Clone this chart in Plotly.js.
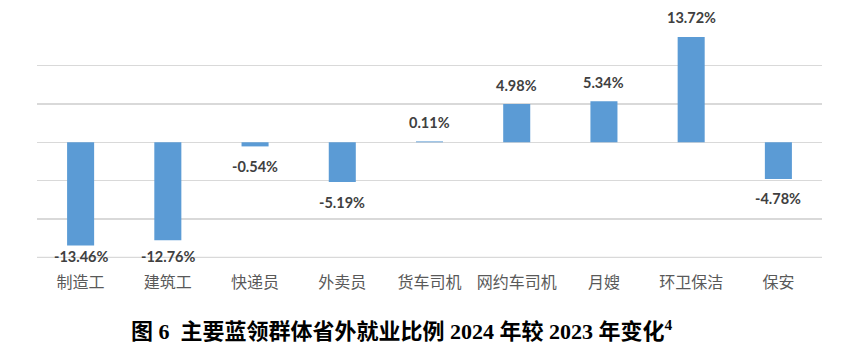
<!DOCTYPE html>
<html><head><meta charset="utf-8">
<script src="https://cdn.plot.ly/plotly-3.0.1.min.js"></script>
<style>html,body{margin:0;padding:0;background:#fff}</style>
</head><body><div id="chart" style="width:857px;height:358px"></div>
<script>
const categories = ["制造工","建筑工","快递员","外卖员","货车司机","网约车司机","月嫂","环卫保洁","保安"];
const values = [-13.46,-12.76,-0.54,-5.19,0.11,4.98,5.34,13.72,-4.78];
const labels = values.map(v => v.toFixed(2) + "%");

const yMin = -15, yMax = 15;
const pxPerUnit = 231 / (yMax - yMin);
const labelFloor = -14.87; // labels stay inside the plot area, as in the reference

const annotations = values.map((v,i) => ({
  x: categories[i], y: v, xref:'x', yref:'y',
  text: labels[i], showarrow:false,
  yanchor:'middle',
  yshift: v >= 0 ? 19 : -Math.min(20, (v - labelFloor) * pxPerUnit),
  font:{family:'Lato, "Open Sans", sans-serif', size:14.5, color:'#404040', weight:700}
}));
annotations.push({
  xref:'paper', yref:'paper', x:(402-37)/785, y:-(330-258)/231, xanchor:'center', yanchor:'middle', showarrow:false,
  text:'图 6  主要蓝领群体省外就业比例 2024 年较 2023 年变化<sup>4</sup>',
  font:{family:'"Liberation Serif", "Noto Sans CJK SC", serif', size:22, color:'#000', weight:700}
});

Plotly.newPlot('chart', [{
  type:'bar', x:categories, y:values,
  marker:{color:'#5B9BD5'},
  hoverinfo:'none'
}], {
  width:857, height:358,
  margin:{l:37, r:35, t:27, b:100},
  paper_bgcolor:'#fff', plot_bgcolor:'#fff',
  bargap:0.69,
  showlegend:false,
  xaxis:{type:'category', showline:false, showgrid:false, zeroline:false, ticks:'',
    tickfont:{family:'"Noto Sans CJK SC", sans-serif', size:16, color:'#595959'}, ticklabelstandoff:13},
  yaxis:{range:[yMin - 0.08, yMax + 0.02], dtick:5, tick0:0, showticklabels:false, showgrid:true, gridcolor:'#D9D9D9', gridwidth:1.3,
    zeroline:true, zerolinecolor:'#D9D9D9', zerolinewidth:1.3, showline:false, ticks:''},
  shapes:[{type:'line', xref:'paper', yref:'y', x0:0, x1:1, y0:yMin, y1:yMin, line:{color:'#D9D9D9', width:1.3}, layer:'below'}],
  annotations: annotations
}, {staticPlot:true});
</script></body></html>
